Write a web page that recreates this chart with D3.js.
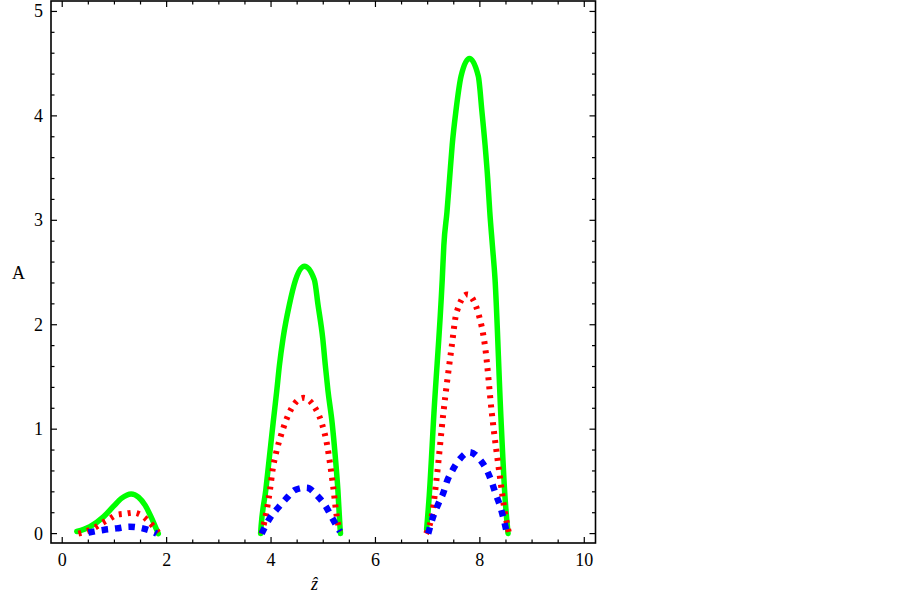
<!DOCTYPE html>
<html>
<head>
<meta charset="utf-8">
<script src="https://cdn.jsdelivr.net/npm/d3@7"></script>
<style>
  html, body { margin: 0; padding: 0; background: #fff; }
  svg { display: block; }
  text { font-family: "Liberation Serif", "Times New Roman", serif; fill: #000; }
</style>
</head>
<body>
<svg id="chart" width="903" height="602"></svg>
<script>
// ---------- data (null separates the three humps) ----------
const greenZ = [0.28, 0.53, 0.79, 0.98, 1.14, 1.32, 1.46, 1.59, 1.71, 1.81, 1.84, null,
                3.80, 3.81, 3.90, 3.97, 4.04, 4.11, 4.16, 4.23, 4.35, 4.47, 4.64, 4.83, 4.90, 4.99, 5.04, 5.09, 5.17, 5.23, 5.28, 5.32, 5.33, null,
                6.98, 7.03, 7.12, 7.28, 7.31, 7.37, 7.42, 7.47, 7.54, 7.64, 7.80, 7.97, 8.04, 8.10, 8.15, 8.19, 8.24, 8.29, 8.40, 8.48, 8.54];
const greenA = [0.02, 0.066, 0.16, 0.26, 0.34, 0.38, 0.35, 0.27, 0.15, 0.035, 0.00, null,
                0.00, 0.07, 0.42, 0.74, 1.06, 1.37, 1.61, 1.87, 2.19, 2.43, 2.56, 2.43, 2.19, 1.87, 1.61, 1.37, 1.06, 0.74, 0.42, 0.07, 0.00, null,
                0.04, 0.36, 1.15, 2.44, 2.76, 3.08, 3.40, 3.72, 4.04, 4.38, 4.55, 4.38, 4.04, 3.72, 3.40, 3.08, 2.76, 2.44, 1.15, 0.36, 0.00];

const redZ = [0.31, 0.60, 0.76, 0.90, 1.04, 1.20, 1.36, 1.50, 1.63, 1.75, 1.84, null,
              3.82, 3.93, 3.98, 4.03, 4.10, 4.19, 4.30, 4.46, 4.62, 4.81, 4.97, 5.07, 5.13, 5.19, 5.26, 5.32, null,
              6.97, 7.09, 7.17, 7.30, 7.46, 7.55, 7.76, 7.97, 8.10, 8.23, 8.39, 8.48, 8.56];
const redA = [0.00, 0.05, 0.10, 0.14, 0.18, 0.19, 0.20, 0.18, 0.13, 0.066, 0.01, null,
              0.00, 0.26, 0.42, 0.61, 0.78, 0.94, 1.10, 1.25, 1.30, 1.23, 1.06, 0.86, 0.67, 0.45, 0.16, 0.02, null,
              0.00, 0.20, 0.52, 1.15, 1.79, 2.11, 2.29, 2.11, 1.79, 1.15, 0.52, 0.20, 0.00];

const blueZ = [0.50, 0.79, 1.04, 1.29, 1.54, 1.73, 1.81, null,
               3.82, 3.98, 4.14, 4.30, 4.47, 4.68, 4.89, 5.05, 5.17, 5.32, null,
               7.01, 7.11, 7.20, 7.30, 7.37, 7.48, 7.61, 7.80, 8.00, 8.14, 8.23, 8.31, 8.39, 8.46, 8.52];
const blueA = [0.01, 0.035, 0.05, 0.066, 0.05, 0.02, 0.00, null,
               0.00, 0.15, 0.25, 0.34, 0.42, 0.44, 0.36, 0.26, 0.15, 0.02, null,
               0.00, 0.17, 0.28, 0.39, 0.50, 0.61, 0.71, 0.78, 0.71, 0.60, 0.49, 0.37, 0.26, 0.13, 0.00];

const xTicks = [0, 2, 4, 6, 8, 10];
const yTicks = [0, 1, 2, 3, 4, 5];
const xLabel = "ẑ";
const yLabel = "A";

// ---------- layout ----------
const svg = d3.select("#chart");
svg.append("rect").attr("width", 903).attr("height", 602).attr("fill", "#fff");

const L = 51, R = 595.5, T = 1, B = 543;
const x = d3.scaleLinear().domain([-0.215, 10.215]).range([L, R]);
const y = d3.scaleLinear().domain([-0.09, 5.1]).range([B, T]);

const toPts = (zs, as) => zs.map((z, i) => ({ z, a: as[i] }));

const line = d3.line()
  .defined(d => d.z != null && d.a != null)
  .x(d => x(d.z))
  .y(d => y(d.a))
  .curve(d3.curveMonotoneX);

const plot = svg.append("g");

const series = [
  { pts: toPts(greenZ, greenA), color: "#00ff00", width: 5.5, dash: null, cap: "round" },
  { pts: toPts(redZ, redA), color: "#ff0000", width: 6, dash: "3,6", cap: "butt" },
  { pts: toPts(blueZ, blueA), color: "#0000ff", width: 6.5, dash: "6.5,7", cap: "butt" }
];
series.forEach(s => {
  plot.append("path")
    .datum(s.pts)
    .attr("d", line)
    .attr("fill", "none")
    .attr("stroke", s.color)
    .attr("stroke-width", s.width)
    .attr("stroke-linejoin", "round")
    .attr("stroke-linecap", s.cap)
    .attr("stroke-dasharray", s.dash);
});

// ---------- frame & ticks ----------
const axisG = svg.append("g");
const majorLen = 6, minorLen = 3.5;
const xMinor = d3.range(0, 10.01, 0.5).filter(v => !xTicks.includes(v));
const yMinor = d3.range(0, 5.01, 0.2).map(v => +v.toFixed(1)).filter(v => !yTicks.includes(v));

function tick(x1, y1, x2, y2) {
  axisG.append("line").attr("x1", x1).attr("y1", y1).attr("x2", x2).attr("y2", y2)
    .attr("stroke", "#000").attr("stroke-width", 1.2);
}
xTicks.forEach(v => { tick(x(v), B, x(v), B - majorLen); tick(x(v), T, x(v), T + majorLen); });
xMinor.forEach(v => { tick(x(v), B, x(v), B - minorLen); tick(x(v), T, x(v), T + minorLen); });
yTicks.forEach(v => { tick(L, y(v), L + majorLen, y(v)); tick(R, y(v), R - majorLen, y(v)); });
yMinor.forEach(v => { tick(L, y(v), L + minorLen, y(v)); tick(R, y(v), R - minorLen, y(v)); });

axisG.append("rect").attr("x", L).attr("y", T).attr("width", R - L).attr("height", B - T)
  .attr("fill", "none").attr("stroke", "#000").attr("stroke-width", 1.6);

// tick labels
svg.append("g").selectAll("text").data(xTicks).join("text")
  .attr("x", d => x(d)).attr("y", 566)
  .attr("text-anchor", "middle").attr("font-size", 18)
  .text(d => d);
svg.append("g").selectAll("text").data(yTicks).join("text")
  .attr("x", 43).attr("y", d => y(d) + 6)
  .attr("text-anchor", "end").attr("font-size", 18)
  .text(d => d);

// axis labels
svg.append("text").attr("x", 18.5).attr("y", 279).attr("text-anchor", "middle")
  .attr("font-size", 18).text(yLabel);
svg.append("text").attr("x", 314.5).attr("y", 590).attr("text-anchor", "middle")
  .attr("font-size", 18).attr("font-style", "italic").text(xLabel);
</script>
</body>
</html>
